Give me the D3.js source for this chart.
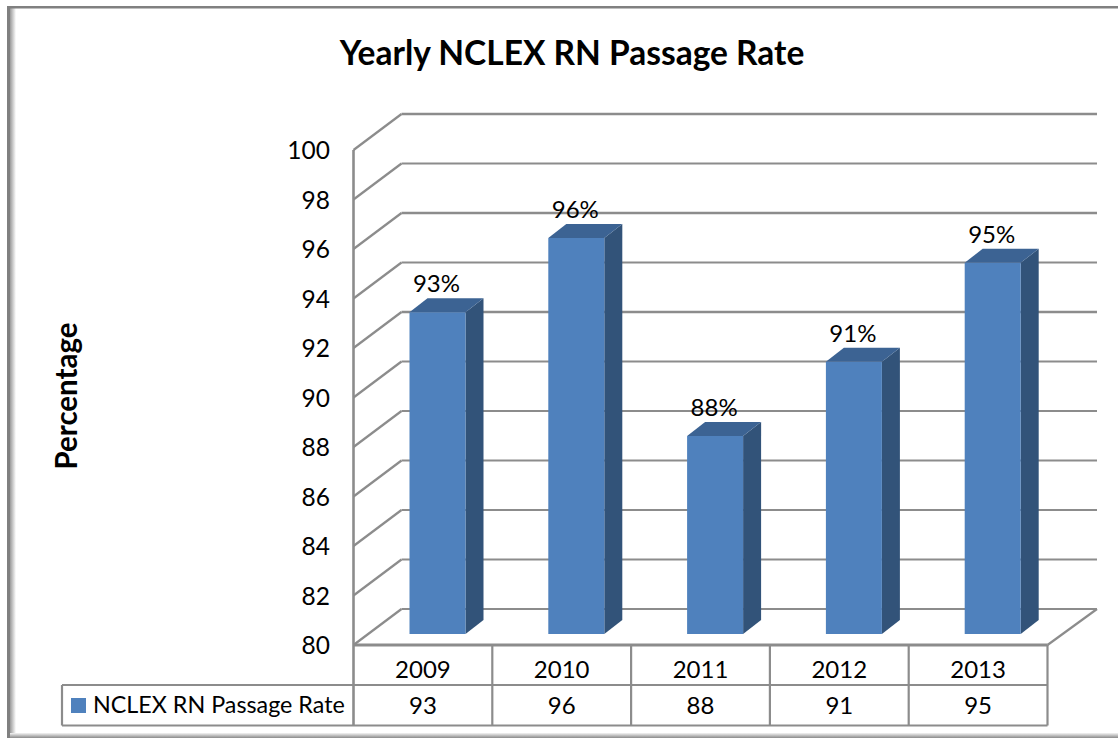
<!DOCTYPE html>
<html><head><meta charset="utf-8"><style>html,body{margin:0;padding:0;background:#fff;overflow:hidden}svg{display:block}text{font-family:Lato,"Noto Sans",sans-serif;fill:#000}</style>
<script src="https://cdn.jsdelivr.net/npm/d3@7/dist/d3.min.js"></script></head><body><script>
const years = ["2009","2010","2011","2012","2013"];
const rates = [93,96,88,91,95];
const ticks = [80,82,84,86,88,90,92,94,96,98,100];
const titleText = "Yearly NCLEX RN Passage Rate";
const axisTitle = "Percentage";
const seriesName = "NCLEX RN Passage Rate";

const W=1118,H=740;
const svg=d3.select("body").append("svg").attr("width",W).attr("height",H);
const defs=svg.append("defs");
function grad(id,x2,y2,stops){const g=defs.append("linearGradient").attr("id",id).attr("x1",0).attr("y1",0).attr("x2",x2).attr("y2",y2);
 stops.forEach(s=>g.append("stop").attr("offset",s[0]).attr("stop-color",s[1]));}
grad("gl",1,0,[[0,"#9a9a9a"],[1,"#ffffff"]]);
grad("gb",0,1,[[0,"#f4f4f4"],[1,"#8a8a8a"]]);

// frame
svg.append("rect").attr("x",10).attr("y",8).attr("width",6).attr("height",725).attr("fill","url(#gl)");
svg.append("rect").attr("x",7).attr("y",733).attr("width",1111).attr("height",5).attr("fill","url(#gb)");
svg.append("rect").attr("x",7).attr("y",6).attr("width",1111).attr("height",2.5).attr("fill","#808080");
svg.append("rect").attr("x",7).attr("y",6).attr("width",3).attr("height",732).attr("fill","#808080");

const x=d3.scaleBand().domain(years).range([353.5,1047.5]);
const y=d3.scaleLinear().domain([80,100]).range([645,150]);
const dx=48,dy=-36;       // wall depth
const bx=18,by=-14;       // bar depth
const barW=56, barBase=-11;
const grey="#8c8c8c";

const g=svg.append("g");
const backRight=1097;
ticks.forEach(t=>{
  const yy=y(t);
  g.append("line").attr("x1",353.5).attr("y1",yy).attr("x2",353.5+dx).attr("y2",yy+dy).attr("stroke",grey).attr("stroke-width",2.2);
  g.append("line").attr("x1",353.5+dx).attr("y1",yy+dy).attr("x2",backRight).attr("y2",yy+dy).attr("stroke",grey).attr("stroke-width",t%4==0&&t>=92?2.6:2.2);
});
g.append("line").attr("x1",1047.5).attr("y1",y(80)).attr("x2",backRight).attr("y2",y(80)+dy).attr("stroke",grey).attr("stroke-width",2.2);
g.append("line").attr("x1",353.5).attr("y1",y(100)).attr("x2",353.5).attr("y2",726).attr("stroke",grey).attr("stroke-width",2.6);

// bars
const barG=g.selectAll("g.bar").data(years.map((d,i)=>({year:d,v:rates[i]}))).join("g");
const left=d=>x(d.year)+56;
const topY=d=>y(d.v)+barBase;
const base=y(80)+barBase;
barG.append("path").attr("fill","#325379").attr("d",d=>{const r=left(d)+barW;
  return `M${r},${topY(d)}L${r+bx},${topY(d)+by}L${r+bx},${base+by}L${r},${base}Z`;});
barG.append("path").attr("fill","#3c6393").attr("d",d=>{const l=left(d),t=topY(d);
  return `M${l},${t}L${l+bx},${t+by}L${l+barW+bx},${t+by}L${l+barW},${t}Z`;});
barG.append("rect").attr("x",left).attr("y",topY).attr("width",barW).attr("height",d=>base-topY(d)).attr("fill","#4f81bd");
barG.append("text").attr("x",d=>left(d)+27).attr("y",d=>topY(d)-20).attr("text-anchor","middle").attr("font-size",24).text(d=>d.v+"%");

// y tick labels
svg.append("g").selectAll("text").data(ticks).join("text").attr("x",330).attr("y",d=>y(d)+3).attr("text-anchor","end").attr("font-size",24.5).attr("dominant-baseline","middle").text(d=>d);

// data table
const tbl=svg.append("g").attr("stroke",grey).attr("fill","none");
const rowTop=645,rowMid=685,rowBot=725.5;
tbl.append("line").attr("x1",353.5).attr("x2",1047.5).attr("y1",rowTop).attr("y2",rowTop).attr("stroke-width",3);
tbl.append("line").attr("x1",62).attr("x2",1047.5).attr("y1",rowMid).attr("y2",rowMid).attr("stroke-width",2.2);
tbl.append("line").attr("x1",62).attr("x2",1047.5).attr("y1",rowBot).attr("y2",rowBot).attr("stroke-width",2.2);
tbl.append("line").attr("x1",62).attr("x2",62).attr("y1",rowMid).attr("y2",rowBot).attr("stroke-width",2.2);
tbl.selectAll("line.v").data(years).join("line").attr("class","v").attr("x1",d=>x(d)+x.bandwidth()).attr("x2",d=>x(d)+x.bandwidth()).attr("y1",rowTop).attr("y2",rowBot).attr("stroke-width",2.2);
const cols=svg.append("g").attr("text-anchor","middle").attr("font-size",24);
cols.selectAll("text.y").data(years).join("text").attr("class","y").attr("x",d=>x(d)+x.bandwidth()/2).attr("y",678).text(d=>d);
cols.selectAll("text.v").data(rates).join("text").attr("class","v").attr("x",(d,i)=>x(years[i])+x.bandwidth()/2).attr("y",714).text(d=>d);
// legend
svg.append("rect").attr("x",71).attr("y",698).attr("width",15).attr("height",15).attr("fill","#4f81bd");
svg.append("text").attr("x",93).attr("y",713).attr("font-size",23.3).text(seriesName);

// titles
svg.append("text").attr("x",572).attr("y",65).attr("text-anchor","middle").attr("font-size",33.5).attr("font-weight",700).text(titleText);
svg.append("text").attr("transform","translate(77,396) rotate(-90)").attr("text-anchor","middle").attr("font-size",29.5).attr("font-weight",700).text(axisTitle);
</script></body></html>
